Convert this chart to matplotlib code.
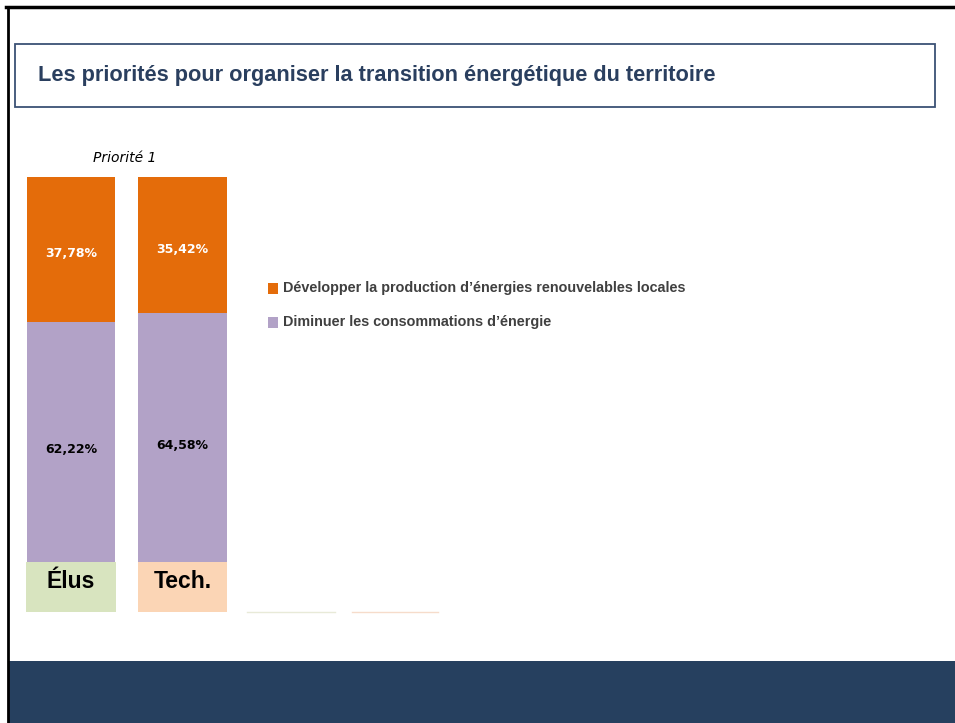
import matplotlib.pyplot as plt
from matplotlib.patches import Rectangle
from matplotlib.lines import Line2D

# data
groups = ['Élus', 'Tech.']
diminuer = [62.22, 64.58]
developper = [37.78, 35.42]
series_names = ["Développer la production d\u2019énergies renouvelables locales",
                "Diminuer les consommations d\u2019énergie"]
title = "Les priorités pour organiser la transition énergétique du territoire"
subtitle = "Priorité 1"

orange = '#e46c0a'
purple = '#b2a2c7'
box_cols = ['#d8e4bf', '#fbd5b5']
navy = '#26405f'

W, H = 955, 723
fig = plt.figure(figsize=(W / 100, H / 100), dpi=100)

def fx(px):
    return px / W

def fy(py):
    return 1 - py / H

# frame lines, title box, bottom band
fig.add_artist(Line2D([fx(6), 1], [fy(7), fy(7)], color='black', lw=2.5))
fig.add_artist(Line2D([fx(8), fx(8)], [fy(7), 0], color='black', lw=2))
fig.add_artist(Rectangle((fx(15), fy(107)), fx(920), 63 / H, fill=False,
                         edgecolor='#3b5275', lw=1.3))
fig.add_artist(Rectangle((fx(9), 0), 1, 62 / H, color=navy, lw=0))
fig.text(fx(38), fy(76), title, fontsize=15.7, fontweight='bold', color='#2a3f5f',
         family='Liberation Sans', va='center')
fig.text(fx(125), fy(158), subtitle, fontsize=10, style='italic', color='black',
         family='DejaVu Sans', ha='center', va='center')

# bars
ax = fig.add_axes([fx(26.4), fy(612), 200.7 / W, 435 / H])
x = range(len(groups))
ax.bar(x, diminuer, width=0.79, color=purple)
ax.bar(x, developper, bottom=diminuer, width=0.79, color=orange)
ax.bar(x, [-13] * len(groups), width=0.8, color=box_cols)
for i in x:
    ax.text(i, diminuer[i] / 2 - 2, f"{diminuer[i]:.2f}%".replace('.', ','),
            ha='center', va='center', fontsize=9, fontweight='bold', color='black')
    ax.text(i, diminuer[i] + developper[i] / 2 - 1, f"{developper[i]:.2f}%".replace('.', ','),
            ha='center', va='center', fontsize=9, fontweight='bold', color='white')
    ax.text(i, -5, groups[i], ha='center', va='center', fontsize=16.5,
            fontweight='bold', color='black', family='Liberation Sans')
ax.set_xlim(-0.4, 1.4)
ax.set_ylim(-13, 100)
ax.axis('off')

# legend
for j, (name, col) in enumerate(zip(series_names, [orange, purple])):
    yy = 288 + j * 34
    fig.add_artist(Rectangle((fx(268), fy(yy + 6)), 10 / W, 11 / H, color=col, lw=0))
    fig.text(fx(283), fy(yy), name, fontsize=10.4, fontweight='bold', color='#404040',
             family='Liberation Sans', va='center')

# faint stray lines under the chart
fig.add_artist(Line2D([fx(247), fx(335)], [fy(612), fy(612)], color='#e8ead8', lw=1))
fig.add_artist(Line2D([fx(352), fx(438)], [fy(612), fy(612)], color='#f6dccb', lw=1))

fig.savefig('out.png', dpi=100)
